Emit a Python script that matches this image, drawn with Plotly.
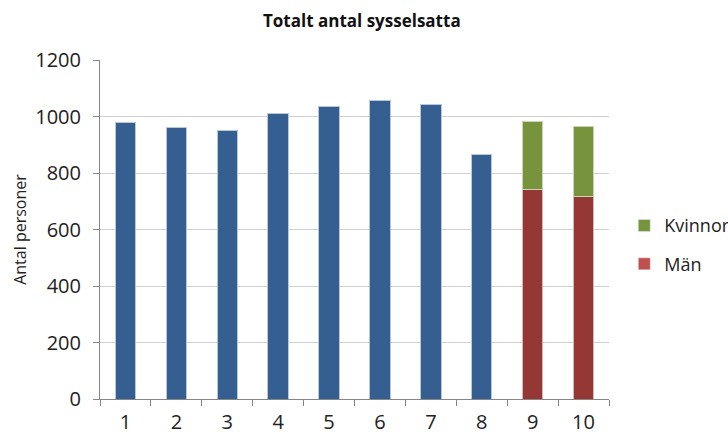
import plotly.graph_objects as go

categories = ["1", "2", "3", "4", "5", "6", "7", "8", "9", "10"]
total_values = [978, 960, 950, 1011, 1034, 1058, 1044, 866, None, None]
man_values = [None, None, None, None, None, None, None, None, 743, 717]
kvinnor_values = [None, None, None, None, None, None, None, None, 240, 247]
y_ticks = [0, 200, 400, 600, 800, 1000, 1200]

blue = "#365F91"
red = "#953735"
green = "#77933C"
legend_red = "#C0504D"
font = "Open Sans"

fig = go.Figure()
fig.add_trace(go.Bar(x=categories, y=total_values, name="Totalt", marker=dict(color=blue, line=dict(color="#B8C7DA", width=1)), showlegend=False))
fig.add_trace(go.Bar(x=categories, y=man_values, name="Män", marker=dict(color=red, line=dict(color="#D9B8B8", width=1)), showlegend=False))
fig.add_trace(go.Bar(x=categories, y=kvinnor_values, name="Kvinnor", marker=dict(color=green, line=dict(color="#C9D6B5", width=1)), showlegend=False))
# legend entries
fig.add_trace(go.Bar(x=[None], y=[None], name="Kvinnor", legendgroup="k", marker=dict(color=green)))
fig.add_trace(go.Bar(x=[None], y=[None], name="Män", legendgroup="m", marker=dict(color=legend_red)))

fig.update_layout(
    width=728, height=432,
    barmode="stack", bargap=0.6,
    paper_bgcolor="white", plot_bgcolor="white",
    margin=dict(l=100, r=119, t=60, b=33, autoexpand=False),
    font=dict(family=font, size=18, color="#222222"),
    title=dict(text="<b>Totalt antal sysselsatta</b>", x=0.497, xanchor="center", y=0.952, yanchor="middle",
               font=dict(family=font, size=17, color="#111111")),
    legend=dict(x=1.030, y=0.455, xanchor="left", yanchor="middle", traceorder="grouped",
                font=dict(family=font, size=18), itemwidth=30, tracegroupgap=12, bgcolor="rgba(0,0,0,0)"),
    showlegend=True,
)
fig.update_xaxes(type="category", categoryorder="array", categoryarray=categories,
                 showline=True, linecolor="#868686", linewidth=1, automargin=False,
                 ticks="outside", tickson="boundaries", ticklen=6, tickcolor="#868686",
                 ticklabelstandoff=5,
                 showgrid=False, tickfont=dict(size=20))
fig.update_yaxes(range=[0, 1200], tickvals=y_ticks, showline=True, linecolor="#868686", linewidth=1,
                 automargin=False,
                 ticks="outside", ticklen=6, tickcolor="#868686", ticklabelstandoff=8,
                 showgrid=True, gridcolor="#D0D0D0", gridwidth=1, zeroline=False,
                 title=dict(text="Antal personer", font=dict(size=16), standoff=4),
                 tickfont=dict(size=20))

fig.write_html("out.html", config={"displayModeBar": False},
               post_script="document.body.style.margin='0';document.documentElement.style.overflow='hidden';")
